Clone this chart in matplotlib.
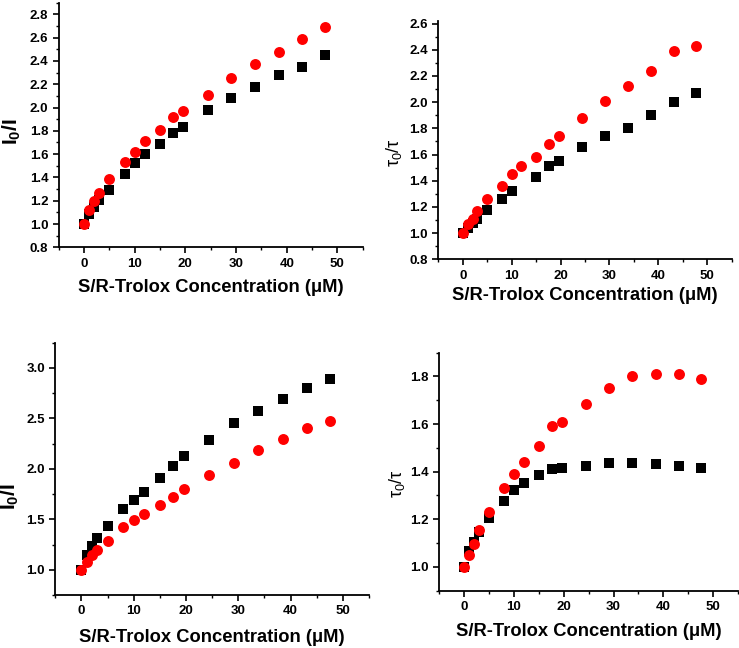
import matplotlib
matplotlib.use('Agg')
import matplotlib.pyplot as plt
import matplotlib.ticker as ticker
import numpy as np

plt.rcParams['font.family'] = ['Liberation Sans', 'DejaVu Sans']
plt.rcParams['mathtext.fontset'] = 'custom'
plt.rcParams['mathtext.rm'] = 'Liberation Sans'
plt.rcParams['mathtext.it'] = 'Liberation Sans:italic'
plt.rcParams['mathtext.bf'] = 'Liberation Sans:bold'

# Concentration of S/R-Trolox (uM)
conc = [0, 1, 2, 3, 5, 8, 10, 12, 15, 17.6, 19.6, 24.4, 29.1, 33.8, 38.5, 43.1, 47.6]

# Top left: I0/I
tl_black = [1.0, 1.09, 1.15, 1.21, 1.29, 1.43, 1.52, 1.60, 1.69, 1.78, 1.83, 1.98, 2.08, 2.18, 2.28, 2.35, 2.45]
tl_red = [1.0, 1.12, 1.20, 1.27, 1.39, 1.53, 1.62, 1.71, 1.81, 1.92, 1.97, 2.11, 2.25, 2.37, 2.48, 2.59, 2.69]

# Top right: tau0/tau
tr_black = [1.0, 1.04, 1.08, 1.11, 1.18, 1.26, 1.32, np.nan, 1.43, 1.51, 1.55, 1.66, 1.74, 1.80, 1.90, 2.00, 2.07]
tr_red = [1.0, 1.07, 1.11, 1.17, 1.26, 1.36, 1.45, 1.51, 1.58, 1.68, 1.74, 1.88, 2.01, 2.12, 2.24, 2.39, 2.43]

# Bottom left: I0/I
bl_black = [1.0, 1.145, 1.24, 1.31, 1.43, 1.60, 1.69, 1.77, 1.91, 2.03, 2.13, 2.29, 2.45, 2.57, 2.69, 2.80, 2.89]
bl_red = [1.0, 1.08, 1.15, 1.20, 1.29, 1.42, 1.49, 1.55, 1.64, 1.72, 1.80, 1.94, 2.06, 2.19, 2.30, 2.40, 2.47]

# Bottom right: tau0/tau
br_black = [1.0, 1.067, 1.106, 1.145, 1.204, 1.276, 1.324, 1.352, 1.386, 1.411, 1.417, 1.425, 1.435, 1.435, 1.434, 1.425, 1.414]
br_red = [1.0, 1.052, 1.097, 1.155, 1.23, 1.33, 1.39, 1.44, 1.51, 1.59, 1.61, 1.685, 1.75, 1.80, 1.81, 1.81, 1.79]

XLABEL = 'S/R-Trolox Concentration (\u03bcM)'
W, H = 739, 648

panels = [
    # (left, right, top, bottom) px, data, ylim, major, minor, ylabel, size, xlabel_y, ylabel (x, y)
    ((58.7, 362.7, 2.7, 247.3), tl_black, tl_red, (0.8, 2.9), 0.2, 0.1, r'$\mathbf{I_0/I}$', 15, 288, (12, 132)),
    ((438.3, 731.7, 21, 259.3), tr_black, tr_red, (0.8, 2.62), 0.2, 0.1, r'$\mathrm{\tau_0/\tau}$', 13, 295, (394, 153)),
    ((55.3, 369, 342.7, 595), bl_black, bl_red, (0.75, 3.25), 0.5, 0.25, r'$\mathbf{I_0/I}$', 15, 637, (10, 497)),
    ((439.3, 738, 352.7, 590.7), br_black, br_red, (0.9, 1.9), 0.2, 0.1, r'$\mathrm{\tau_0/\tau}$', 13, 631, (397, 484)),
]

fig = plt.figure(figsize=(W / 100, H / 100), dpi=100)

for (l, r, t, b), black, red, ylim, major, minor, ylab, ysize, xly, (ylx, yly) in panels:
    ax = fig.add_axes([l / W, 1 - b / H, (r - l) / W, (b - t) / H])
    ax.scatter(conc, black, marker='s', s=52, color='black', zorder=2, linewidths=0)
    ax.scatter(conc, red, marker='o', s=62, color='#ff0000', zorder=3, linewidths=0)
    ax.set_xlim(-5, 55)
    ax.set_ylim(*ylim)
    ax.spines['top'].set_visible(False)
    ax.spines['right'].set_visible(False)
    for s in ('left', 'bottom'):
        ax.spines[s].set_linewidth(1.3)
    ax.xaxis.set_major_locator(ticker.MultipleLocator(10))
    ax.xaxis.set_minor_locator(ticker.MultipleLocator(5))
    ax.yaxis.set_major_locator(ticker.MultipleLocator(major))
    ax.yaxis.set_minor_locator(ticker.MultipleLocator(minor))
    ax.yaxis.set_major_formatter(ticker.FormatStrFormatter('%.1f'))
    ax.tick_params(which='major', direction='out', length=4, width=1.2, labelsize=9.5)
    ax.tick_params(which='minor', direction='out', length=2.5, width=1.0)
    for lab in ax.get_xticklabels() + ax.get_yticklabels():
        lab.set_fontweight('bold')
    fig.text((l + r) / 2 / W, 1 - xly / H, XLABEL, fontsize=13.2, fontweight='bold',
             ha='center', va='center')
    fig.text(ylx / W, 1 - yly / H, ylab, fontsize=ysize, rotation=90,
             ha='center', va='center')

fig.savefig('out.png', dpi=100)
